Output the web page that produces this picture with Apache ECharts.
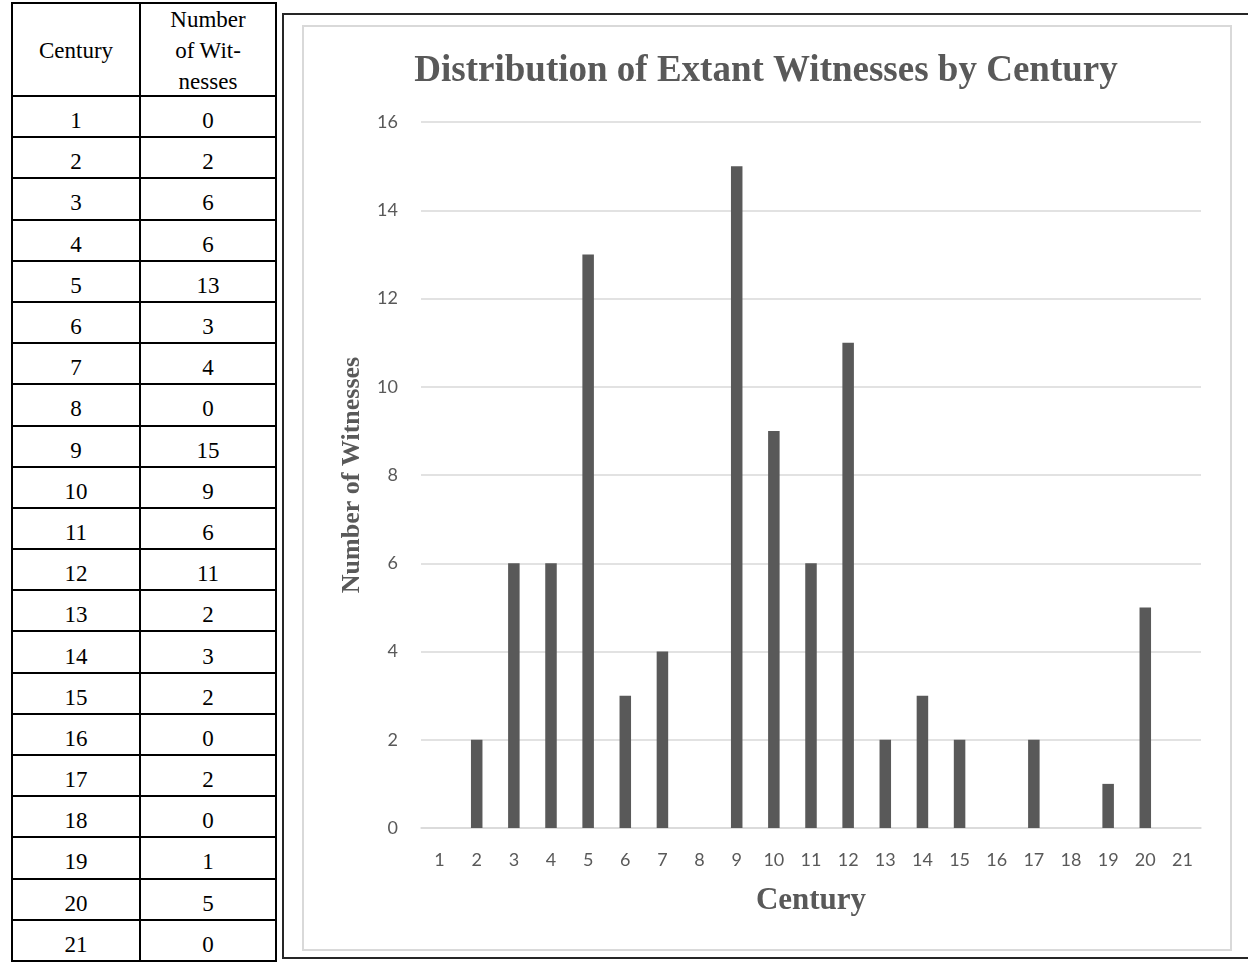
<!DOCTYPE html>
<html>
<head>
<meta charset="utf-8">
<script src="https://cdn.jsdelivr.net/npm/echarts@6/dist/echarts.min.js"></script>
<style>
  html, body { margin: 0; padding: 0; background: #fff; }
  body { width: 1248px; height: 962px; overflow: hidden; position: relative; }
  #table {
    position: absolute; left: 11px; top: 2px;
    display: grid; grid-template-columns: 126px 134px;
    grid-auto-rows: 39.2px; grid-template-rows: 91px;
    gap: 2px; padding: 2px; background: #000;
    font-family: "Liberation Serif", "Times New Roman", serif; font-size: 23px; color: #000;
  }
  #table div {
    background: #fff; display: flex; align-items: center; justify-content: center;
    text-align: center; box-sizing: border-box; padding-top: 9px;
  }
  #table div.head { padding-top: 2px; line-height: 31px; }
  #outer {
    position: absolute; left: 282px; top: 13px; width: 1100px; height: 946px;
    border: 2px solid #262626; box-sizing: border-box;
  }
  #inner {
    position: absolute; left: 302px; top: 25px; width: 930px; height: 926px;
    border: 2px solid #d9d9d9; box-sizing: border-box;
  }
  #chart { position: absolute; left: 284px; top: 15px; width: 964px; height: 945px; }
</style>
</head>
<body>
<div id="table"></div>
<div id="outer"></div>
<div id="inner"></div>
<div id="chart"></div>
<script>
const centuries = ['1', '2', '3', '4', '5', '6', '7', '8', '9', '10', '11',
  '12', '13', '14', '15', '16', '17', '18', '19', '20', '21'];
const witnesses = [0, 2, 6, 6, 13, 3, 4, 0, 15, 9, 6, 11, 2, 3, 2, 0, 2, 0, 1, 5, 0];
const tableHeader = ['Century', 'Number<br>of Wit-<br>nesses'];

// table on the left
const table = document.getElementById('table');
let html = '<div class="head">' + tableHeader[0] + '</div><div class="head">' + tableHeader[1] + '</div>';
for (let i = 0; i < centuries.length; i++) {
  html += '<div>' + centuries[i] + '</div><div>' + witnesses[i] + '</div>';
}
table.innerHTML = html;

const chart = echarts.init(document.getElementById('chart'));
const grey = '#595959';
const serif = '"Liberation Serif", "Times New Roman", serif';

chart.setOption({
  animation: false,
  title: {
    text: 'Distribution of Extant Witnesses by Century',
    left: 'center',
    top: 33,
    textStyle: { fontFamily: serif, fontWeight: 'bold', fontSize: 37, color: grey }
  },
  grid: { left: 137, right: 47, top: 107, bottom: 132 },
  xAxis: {
    type: 'category',
    data: centuries,
    name: 'Century',
    nameLocation: 'middle',
    nameGap: 57,
    nameTextStyle: { fontFamily: serif, fontWeight: 'bold', fontSize: 31, color: grey },
    axisLine: { lineStyle: { color: '#d9d9d9', width: 1.5 } },
    axisTick: { show: false },
    axisLabel: { color: grey, fontFamily: 'Lato', fontSize: 18, margin: 23, interval: 0 }
  },
  yAxis: {
    type: 'value',
    min: 0,
    max: 16,
    interval: 2,
    name: 'Number of Witnesses',
    nameLocation: 'middle',
    nameGap: 56,
    nameTextStyle: { fontFamily: serif, fontWeight: 'bold', fontSize: 26, color: grey },
    axisLabel: { color: grey, fontFamily: 'Lato', fontSize: 18, margin: 23 },
    splitLine: { lineStyle: { color: '#d9d9d9', width: 1.5 } }
  },
  series: [{
    type: 'bar',
    data: witnesses,
    barWidth: '31%',
    itemStyle: { color: grey }
  }]
});
</script>
</body>
</html>
